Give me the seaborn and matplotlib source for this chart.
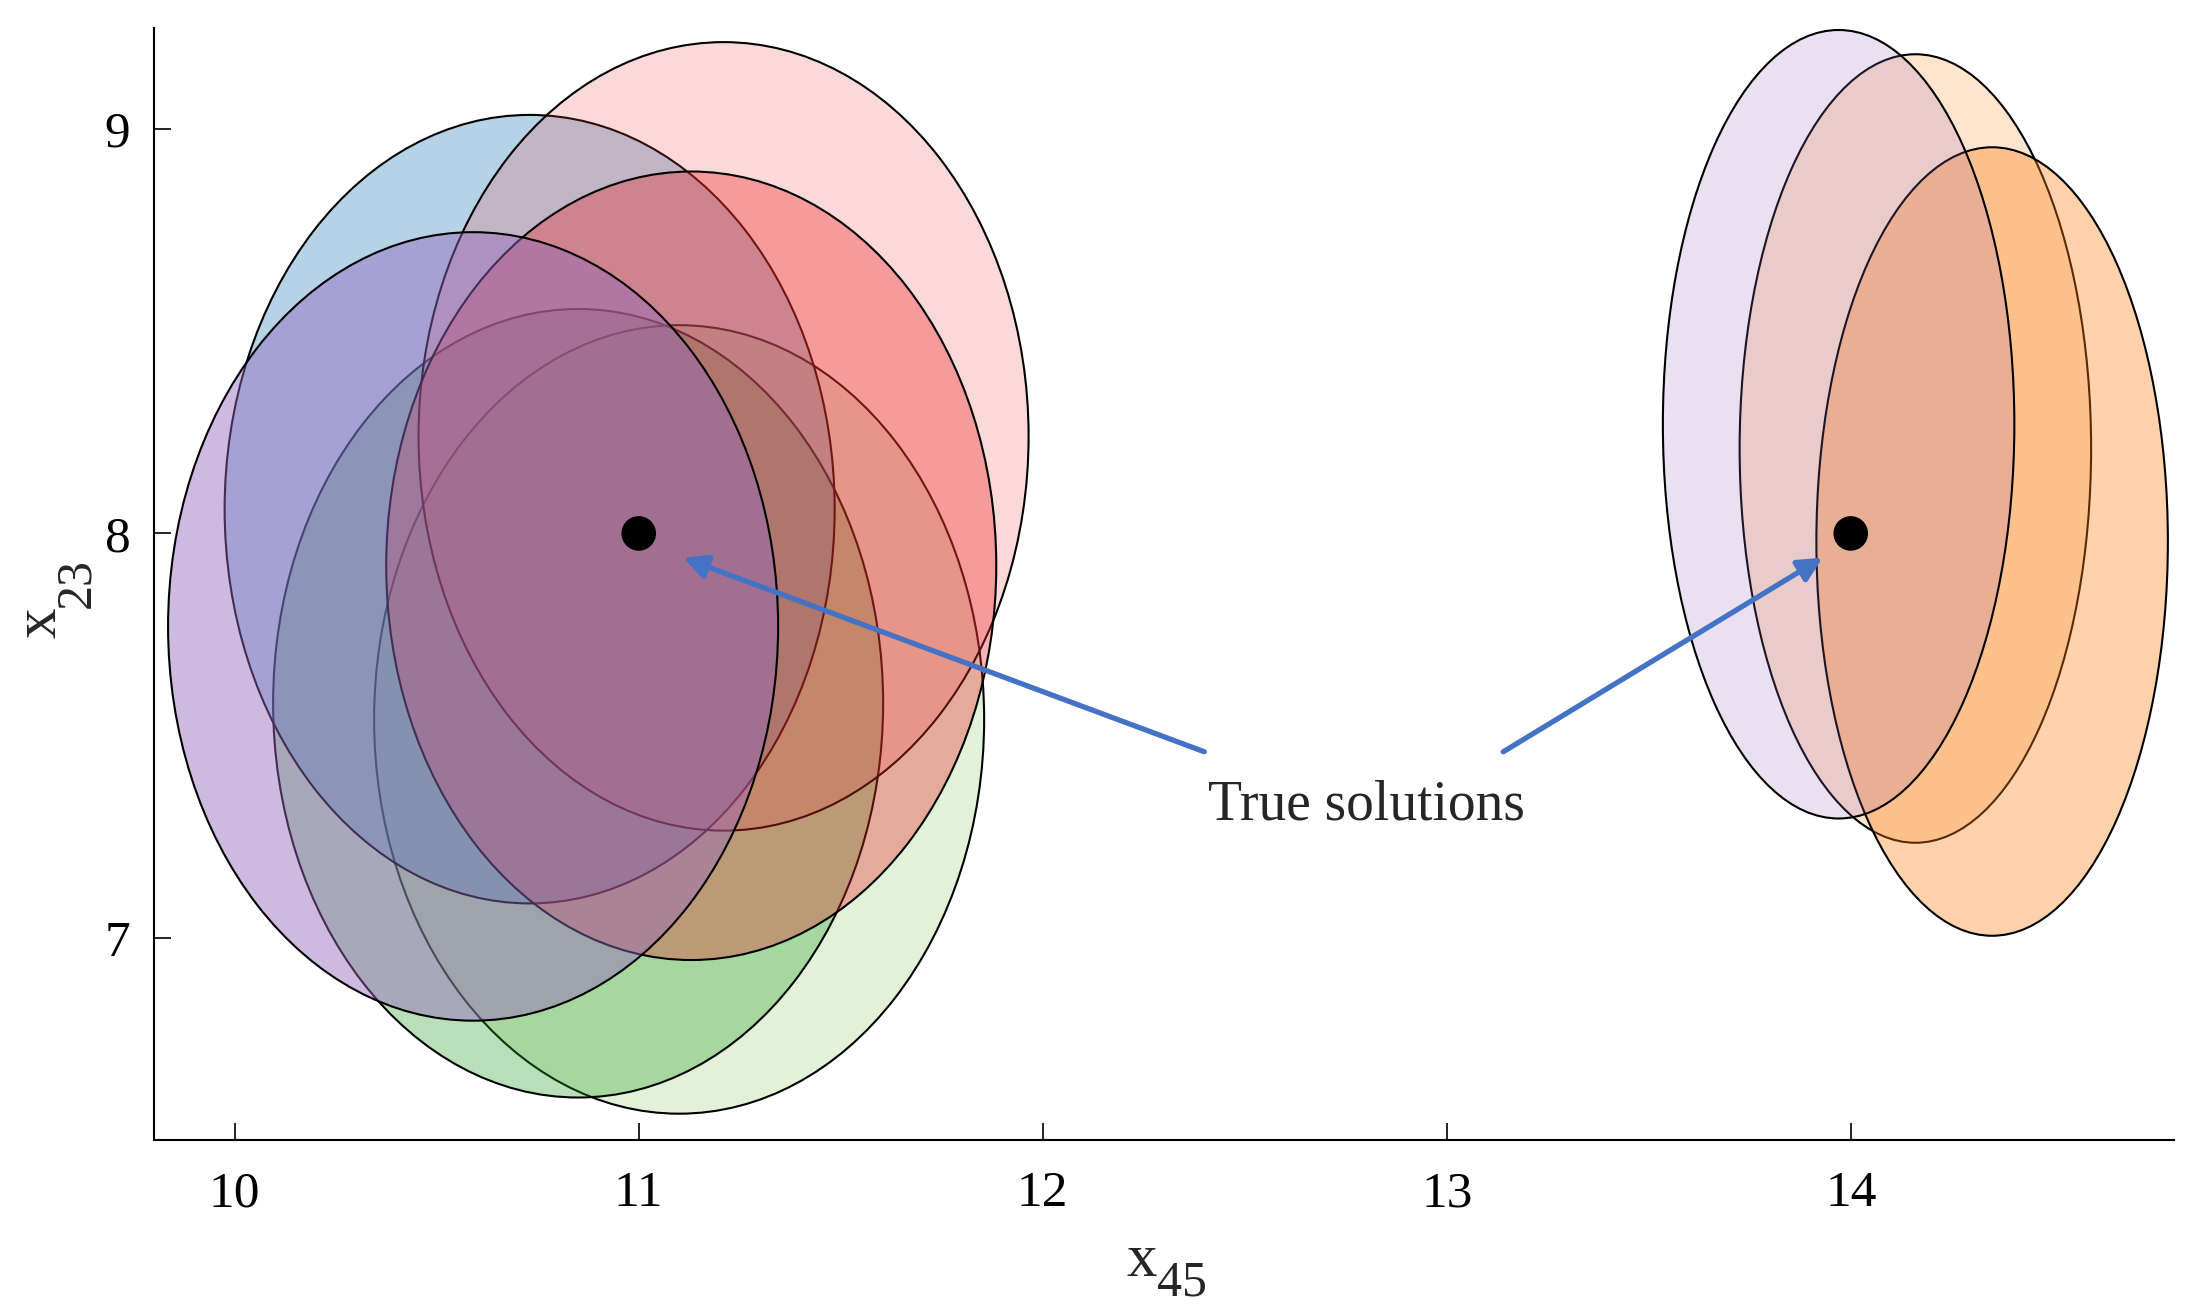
import numpy as np
import pandas as pd
import matplotlib
matplotlib.use("Agg")
import matplotlib.pyplot as plt
from matplotlib.patches import Ellipse
import seaborn as sns

sns.set_style("ticks")
plt.rcParams['font.family'] = ['Liberation Serif', 'DejaVu Serif']

# ellipse estimates (x45, x23) with their widths and heights
ell_x = [11.10, 10.85, 10.73, 11.21, 11.13, 10.59, 14.16, 14.35, 13.97]
ell_y = [7.54, 7.58, 8.06, 8.24, 7.92, 7.77, 8.21, 7.98, 8.27]
ell_w = [1.51, 1.51, 1.51, 1.51, 1.51, 1.51, 0.87, 0.87, 0.87]
ell_h = [1.95, 1.95, 1.95, 1.95, 1.95, 1.95, 1.95, 1.95, 1.95]

# true solutions
true_x = [11, 14]
true_y = [8, 8]

ell_colors = ['#6fbf40', '#2ca02c', '#1f77b4', '#f44444', '#e8292b',
              '#9467bd', '#ff7f0e', '#ff7f0e', '#9467bd']
ell_alpha = [0.2, 0.33, 0.33, 0.2, 0.35, 0.45, 0.2, 0.35, 0.2]

fig = plt.figure(figsize=(21.99, 13.07), dpi=100)
ax = fig.add_axes([0.070, 0.1278, 0.9186, 0.8508])

for x, y, w, h, c, a in zip(ell_x, ell_y, ell_w, ell_h, ell_colors, ell_alpha):
    ax.add_patch(Ellipse((x, y), w, h, facecolor=matplotlib.colors.to_rgba(c, a),
                         edgecolor='black', linewidth=1.5))

df = pd.DataFrame({'x45': true_x, 'x23': true_y})
sns.scatterplot(data=df, x='x45', y='x23', ax=ax, color='black', s=620,
                edgecolor='none', zorder=5)

# annotation
arrow_kw = dict(arrowstyle='-|>', color='#4472C4', lw=3.8, mutation_scale=36,
                shrinkA=0, shrinkB=0)
ax.annotate('', xy=(11.11, 7.94), xytext=(12.40, 7.46), arrowprops=arrow_kw)
ax.annotate('', xy=(13.93, 7.94), xytext=(13.14, 7.46), arrowprops=arrow_kw)
ax.text(12.41, 7.293, 'True solutions', fontsize=40, ha='left', va='baseline')

ax.set_xlim(9.8, 14.8)
ax.set_ylim(6.5, 9.25)
ax.set_xticks([10, 11, 12, 13, 14])
ax.set_yticks([7, 8, 9])
sns.despine(ax=ax)
for s in ['left', 'bottom']:
    ax.spines[s].set_linewidth(1.5)
    ax.spines[s].set_color('black')
ax.tick_params(axis='both', direction='in', length=12, width=1.2, labelsize=37,
               colors='black')
ax.tick_params(axis='x', pad=22)
ax.tick_params(axis='y', pad=17)

# axis labels: "x" with a large subscript
ax.set_xlabel('x', fontsize=44, labelpad=12)
ax.xaxis.label.set_position((0.489, 0))
ax.set_ylabel('x', fontsize=44, labelpad=26)
ax.yaxis.label.set_position((0, 0.465))
fig.canvas.draw()
ax.annotate('45', xy=(1, 0.5), xycoords=ax.xaxis.label, xytext=(0, -16),
            textcoords='offset points', fontsize=36, ha='left', va='center')
ax.annotate('23', xy=(0.5, 1), xycoords=ax.yaxis.label, xytext=(26, 0),
            textcoords='offset points', fontsize=36, ha='center', va='bottom',
            rotation=90)

fig.savefig('out.png', dpi=100)
